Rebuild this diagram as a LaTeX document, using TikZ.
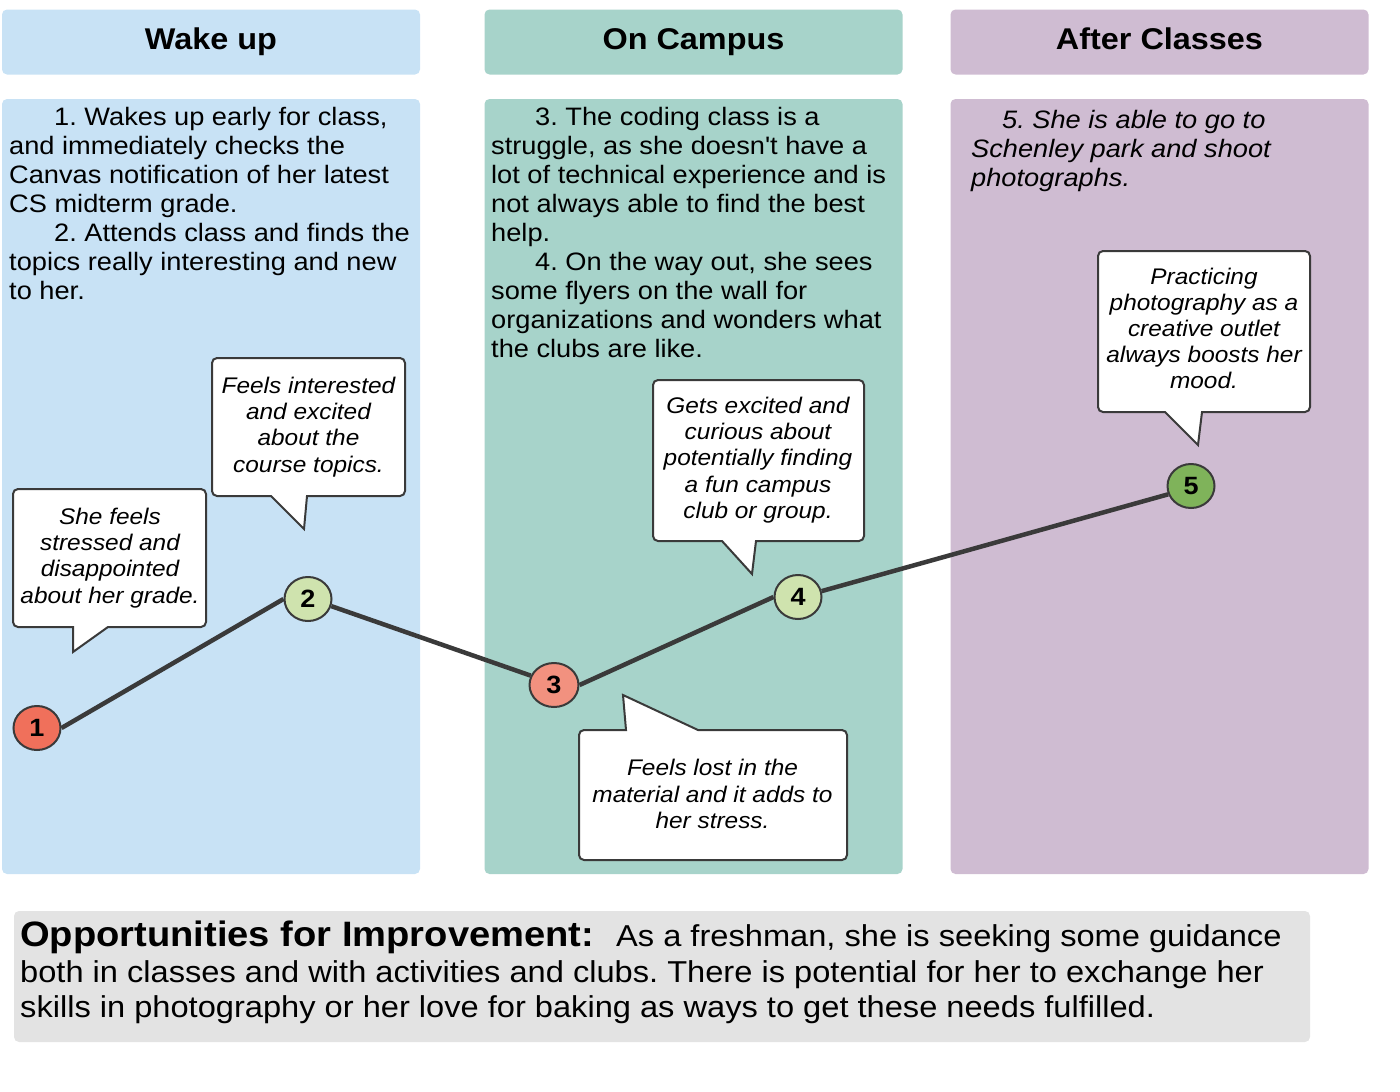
\documentclass[tikz,border=0pt]{standalone}
\usepackage{fontspec}
\setmainfont[FakeStretch=1.08,Ligatures=TeXOff]{Liberation Sans}
\usetikzlibrary{shapes.geometric}
\definecolor{wakeblue}{HTML}{C8E2F5}
\definecolor{campusgreen}{HTML}{A7D3CA}
\definecolor{afterpurple}{HTML}{CFBCD2}
\definecolor{oppgrey}{HTML}{E3E3E3}
\definecolor{inkline}{HTML}{3A3A3A}
\definecolor{lowred}{HTML}{F0705B}
\definecolor{softred}{HTML}{F2917F}
\definecolor{softgreen}{HTML}{CFE3AE}
\definecolor{highgreen}{HTML}{7FB35A}
\tikzset{
   panel/.style={rounded corners=5pt,inner sep=0pt,minimum width=418pt},
   headbox/.style={panel,minimum height=65pt,text height=22pt,text depth=6.5pt,font=\fontsize{30}{34}\selectfont\bfseries},
   bodybox/.style={panel,minimum height=775pt},
   bodytext/.style={anchor=north west,inner sep=0pt,align=left,font=\fontsize{25.2}{29}\selectfont},
   bubble/.style={draw=inkline,line width=2pt,fill=white,rounded corners=5pt},
   bubbletext/.style={inner sep=0pt,align=center,font=\fontsize{22.6}{26.2}\selectfont\itshape},
   stage/.style={ellipse,draw=inkline,line width=2pt,inner sep=0pt,minimum width=47pt,minimum height=44pt,font=\fontsize{25}{28}\selectfont\bfseries},
   curve/.style={draw=inkline,line width=4.5pt}
}
\begin{document}
\frenchspacing
\begin{tikzpicture}[x=1pt,y=-1pt]
   \useasboundingbox (0,0) rectangle (1400,1092);
   \draw (211,42) node[headbox,fill=wakeblue] (headwake) {Wake up};
   \draw (693.5,42) node[headbox,fill=campusgreen] (headcampus) {On Campus};
   \draw (1159.5,42) node[headbox,fill=afterpurple] (headafter) {After Classes};
   \draw (211,486.5) node[bodybox,fill=wakeblue] (bodywake) {};
   \draw (693.5,486.5) node[bodybox,fill=campusgreen] (bodycampus) {};
   \draw (1159.5,486.5) node[bodybox,fill=afterpurple] (bodyafter) {};
   \draw (9,107) node[bodytext] (textwake) {\hspace*{45pt}1. Wakes up early for class,\\and immediately checks the\\Canvas notification of her latest\\CS midterm grade.\\\hspace*{45pt}2. Attends class and finds the\\topics really interesting and new\\to her.};
   \draw (491,107) node[bodytext] (textcampus) {\hspace*{44pt}3. The coding class is a\\struggle, as she doesn't have a\\lot of technical experience and is\\not always able to find the best\\help.\\\hspace*{44pt}4. On the way out, she sees\\some flyers on the wall for\\organizations and wonders what\\the clubs are like.};
   \draw (971,110) node[bodytext,font=\fontsize{25.2}{29}\selectfont\itshape] (textafter) {\hspace*{31pt}5. She is able to go to\\Schenley park and shoot\\photographs.};
   \draw[bubble] (50,489) -- (206,489) -- (206,627) [sharp corners] -- (108,627) -- (73,652) -- (73,627) [rounded corners=5pt] -- (13,627) -- (13,489) -- cycle;
   \draw[bubble] (250,358) -- (405,358) -- (405,496) [sharp corners] -- (307,496) -- (304,529) -- (271,496) [rounded corners=5pt] -- (212,496) -- (212,358) -- cycle;
   \draw[bubble] (700,380) -- (864,380) -- (864,541) [sharp corners] -- (756,541) -- (752,574) -- (722,541) [rounded corners=5pt] -- (653,541) -- (653,380) -- cycle;
   \draw[bubble] (800,860) -- (579,860) -- (579,730) [sharp corners] -- (626,730) -- (623,695) -- (698,730) [rounded corners=5pt] -- (847,730) -- (847,860) -- cycle;
   \draw[bubble] (1150,251) -- (1310,251) -- (1310,412) [sharp corners] -- (1202,412) -- (1198,445) -- (1165,412) [rounded corners=5pt] -- (1098,412) -- (1098,251) -- cycle;
   \draw (110,558) node[bubbletext] (feelone) {She feels\\stressed and\\disappointed\\about her grade.};
   \draw (308.5,427) node[bubbletext] (feeltwo) {Feels interested\\and excited\\about the\\course topics.};
   \draw (712.5,794) node[bubbletext] (feelthree) {Feels lost in the\\material and it adds to\\her stress.};
   \draw (758,460) node[bubbletext] (feelfour) {Gets excited and\\curious about\\potentially finding\\a fun campus\\club or group.};
   \draw (1204,328.5) node[bubbletext] (feelfive) {Practicing\\photography as a\\creative outlet\\always boosts her\\mood.};
   \draw (37,728) node[stage,fill=lowred] (one) {1};
   \draw (308,599) node[stage,fill=softgreen] (two) {2};
   \draw (554,685) node[stage,fill=softred,minimum width=49pt] (three) {3};
   \draw (798,597) node[stage,fill=softgreen] (four) {4};
   \draw (1191,486) node[stage,fill=highgreen] (five) {5};
   \draw[curve] (one.east) -- (two.west);
   \draw[curve] (two.-17) -- (three.158);
   \draw[curve] (three.east) -- (four.west);
   \draw[curve] (four.14) -- (five.200);
   \draw (662,976.5) node[panel,fill=oppgrey,minimum width=1296pt,minimum height=131pt] (oppbox) {};
   \draw (20,920.5) node[bodytext,font=\fontsize{30.2}{35.8}\selectfont] (opptext) {{\fontsize{35.3}{35.8}\selectfont\bfseries Opportunities for Improvement:}\hspace*{22pt}As a freshman, she is seeking some guidance\\both in classes and with activities and clubs. There is potential for her to exchange her\\skills in photography or her love for baking as ways to get these needs fulfilled.};
\end{tikzpicture}
\end{document}
